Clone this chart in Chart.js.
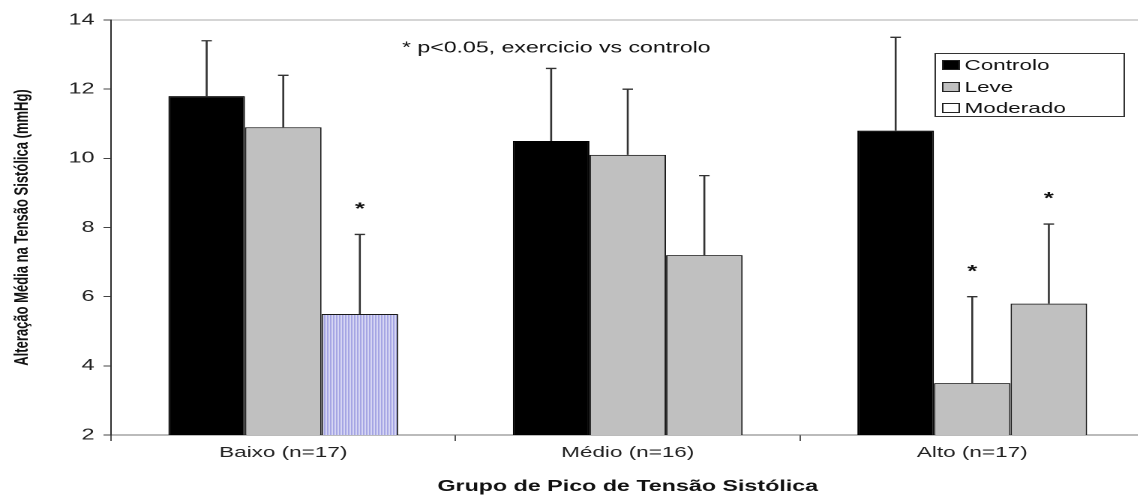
<!DOCTYPE html>
<html>
<head>
<meta charset="utf-8">
<script src="https://cdn.jsdelivr.net/npm/chart.js@4/dist/chart.umd.min.js"></script>
<style>
  html, body { margin: 0; padding: 0; background: #fff; overflow: hidden; }
  /* the original figure is stretched 1.5x horizontally */
  #wrap { width: 764px; height: 498px; transform: scaleX(1.5); transform-origin: 0 0; }
</style>
</head>
<body>
<div id="wrap"><canvas id="chart" width="764" height="498"></canvas></div>
<script>
const categories = ['Baixo (n=17)', 'Médio (n=16)', 'Alto (n=17)'];
const controlo = [11.8, 10.5, 10.8];
const leve = [10.9, 10.1, 3.5];
const moderado = [5.5, 7.2, 5.8];
// upper error bars (added on top of the mean)
const controloErr = [1.6, 2.1, 2.7];
const leveErr = [1.5, 1.9, 2.5];
const moderadoErr = [2.3, 2.3, 2.3];
// * p<0.05, exercicio vs controlo
const controloSig = [false, false, false];
const leveSig = [false, false, true];
const moderadoSig = [true, false, true];
const yTicks = [2, 4, 6, 8, 10, 12, 14];

const FONT = '"Liberation Sans", Arial, sans-serif';
const GRAY = '#c0c0c0';

// blue vertical stripes used on one bar
const pc = document.createElement('canvas');
pc.width = 2; pc.height = 1;
const pctx = pc.getContext('2d');
pctx.fillStyle = '#eeeefa'; pctx.fillRect(0, 0, 2, 1);
pctx.fillStyle = '#8c8cdc'; pctx.fillRect(0, 0, 1, 1);
const stripes = pctx.createPattern(pc, 'repeat');

const errs = [controloErr, leveErr, moderadoErr];
const sigs = [controloSig, leveSig, moderadoSig];

const errorBars = {
  id: 'errorBars',
  afterDatasetsDraw(chart) {
    const ctx = chart.ctx;
    const y = chart.scales.y;
    ctx.save();
    chart.data.datasets.forEach((ds, di) => {
      const meta = chart.getDatasetMeta(di);
      meta.data.forEach((bar, i) => {
        const top = y.getPixelForValue(ds.data[i] + errs[di][i]);
        ctx.strokeStyle = '#333';
        ctx.lineWidth = 1.3;
        ctx.beginPath();
        ctx.moveTo(bar.x, bar.y);
        ctx.lineTo(bar.x, top);
        ctx.moveTo(bar.x - 3.5, top);
        ctx.lineTo(bar.x + 3.5, top);
        ctx.stroke();
        if (sigs[di][i]) {
          ctx.fillStyle = '#111';
          ctx.font = 'bold 17px ' + FONT;
          ctx.textAlign = 'center';
          ctx.textBaseline = 'middle';
          ctx.fillText('*', bar.x, top - 25);
        }
      });
    });
    ctx.restore();
  }
};

const legendBox = {
  id: 'legendBox',
  afterDraw(chart) {
    const ctx = chart.ctx;
    ctx.save();
    ctx.strokeStyle = '#333';
    ctx.lineWidth = 1;
    ctx.strokeRect(623.5, 53.5, 126, 63);
    const swatches = ['#000', GRAY, '#fff'];
    const rows = [65, 87, 108];
    ctx.font = '15px ' + FONT;
    ctx.textBaseline = 'middle';
    ctx.textAlign = 'left';
    chart.data.datasets.forEach((ds, i) => {
      ctx.fillStyle = swatches[i];
      ctx.fillRect(628, rows[i] - 5, 12, 10);
      ctx.strokeStyle = '#222';
      ctx.strokeRect(628.5, rows[i] - 4.5, 11, 9);
      ctx.fillStyle = '#111';
      ctx.fillText(ds.label, 643, rows[i] + 1);
    });
    ctx.font = '15.4px ' + FONT;
    ctx.fillText('* p<0.05, exercicio vs controlo', 268, 48);
    ctx.restore();
  }
};

new Chart(document.getElementById('chart'), {
  type: 'bar',
  data: {
    labels: categories,
    datasets: [
      { label: 'Controlo', data: controlo, backgroundColor: '#000', borderColor: '#000', borderWidth: 1 },
      { label: 'Leve', data: leve, backgroundColor: GRAY, borderColor: '#1a1a1a', borderWidth: 1 },
      { label: 'Moderado', data: moderado, backgroundColor: [stripes, GRAY, GRAY], borderColor: '#1a1a1a', borderWidth: 1 }
    ]
  },
  options: {
    responsive: false,
    animation: false,
    devicePixelRatio: 2,
    categoryPercentage: 0.667,
    barPercentage: 1.0,
    layout: { padding: { top: 20, right: 1, left: 0, bottom: 0 } },
    plugins: { legend: { display: false }, tooltip: { enabled: false } },
    scales: {
      x: {
        grid: { display: true, drawOnChartArea: false, offset: true, tickLength: 6, tickColor: '#555' },
        border: { color: '#777', width: 1 },
        ticks: { color: '#222', font: { family: FONT, size: 15 }, padding: 3, maxRotation: 0 },
        title: { display: true, text: 'Grupo de Pico de Tensão Sistólica', color: '#111',
                 font: { family: FONT, size: 15.5, weight: 'bold' }, padding: { top: 2, bottom: 2 } },
        afterFit: s => { s.height = 63; }
      },
      y: {
        min: 2, max: 14,
        afterBuildTicks: s => { s.ticks = yTicks.map(v => ({ value: v })); },
        grid: {
          color: c => (c.tick && c.tick.value === 14 ? '#aaa' : 'rgba(0,0,0,0)'),
          tickColor: '#444', tickLength: 5
        },
        border: { color: '#333', width: 1 },
        ticks: { color: '#222', font: { family: FONT, size: 15.5 }, padding: 6 },
        title: { display: true, text: 'Alteração Média na Tensão Sistólica (mmHg)', color: '#111',
                 font: { family: FONT, size: 13, weight: 'bold' }, padding: { top: 7, bottom: 7 } },
        afterFit: s => { s.width = 74; }
      }
    }
  },
  plugins: [errorBars, legendBox]
});
</script>
</body>
</html>
